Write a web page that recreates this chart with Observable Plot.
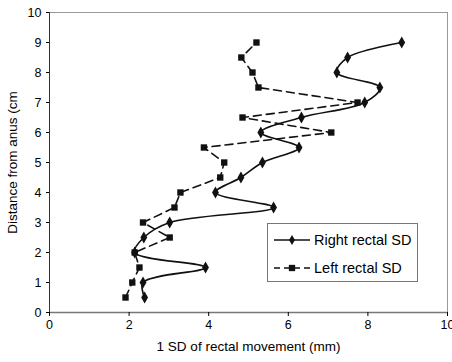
<!DOCTYPE html>
<html>
<head>
<meta charset="utf-8">
<script src="https://cdn.jsdelivr.net/npm/d3@7"></script>
<script src="https://cdn.jsdelivr.net/npm/@observablehq/plot@0.6"></script>
<style>
  body { margin: 0; background: #fff; }
  #wrap { position: relative; width: 452px; height: 362px; overflow: hidden; font-family: "Liberation Sans", Arial, sans-serif; }
  #legend { position: absolute; left: 267px; top: 223px; width: 151px; height: 59px; border: 1px solid #777; background: #fff; box-sizing: border-box; font-size: 14.5px; color: #000; }
  #legend .row { position: absolute; left: 5px; height: 20px; display: flex; align-items: center; }
  #legend svg { margin-right: 3px; }
</style>
</head>
<body>
<div id="wrap"></div>
<script>
const depth = [0.5, 1, 1.5, 2, 2.5, 3, 3.5, 4, 4.5, 5, 5.5, 6, 6.5, 7, 7.5, 8, 8.5, 9];
const rightSD = [2.39, 2.35, 3.92, 2.14, 2.37, 3.02, 5.63, 4.17, 4.81, 5.35, 6.27, 5.31, 6.33, 7.92, 8.30, 7.22, 7.49, 8.85];
const leftSD  = [1.91, 2.08, 2.26, 2.14, 3.02, 2.35, 3.14, 3.29, 4.29, 4.39, 3.88, 7.08, 4.85, 7.74, 5.25, 5.10, 4.82, 5.20];
const seriesNames = ["Right rectal SD", "Left rectal SD"];
const xTicks = [0, 2, 4, 6, 8, 10];
const yTicks = [0, 1, 2, 3, 4, 5, 6, 7, 8, 9, 10];

const right = depth.map((d, i) => ({y: d, x: rightSD[i]}));
const left = depth.map((d, i) => ({y: d, x: leftSD[i]}));

const chart = Plot.plot({
  width: 452,
  height: 362,
  marginLeft: 49,
  marginRight: 5,
  marginTop: 12,
  marginBottom: 50,
  style: {fontFamily: '"Liberation Sans", Arial, sans-serif', fontSize: "12px", color: "#000", background: "#fff"},
  x: {domain: [0, 10]},
  y: {domain: [0, 10]},
  marks: [
    Plot.frame({stroke: "#999", strokeWidth: 1}),
    Plot.ruleX([0], {stroke: "#333"}),
    Plot.ruleY([0], {stroke: "#777", strokeWidth: 1.5}),
    Plot.axisX({ticks: xTicks, tickSize: 4, tickPadding: 4, fontSize: 12.5,
      label: "1 SD of rectal movement (mm)", labelAnchor: "center", labelArrow: "none", labelOffset: 38}),
    Plot.axisY({ticks: yTicks, tickSize: 3, tickPadding: 5, fontSize: 12.5,
      label: "Distance from anus (cm", labelAnchor: "center", labelArrow: "none", labelOffset: 42}),
    Plot.line(left, {x: "x", y: "y", stroke: "#111", strokeWidth: 1.6, strokeDasharray: "8,5"}),
    Plot.line(right, {x: "x", y: "y", stroke: "#111", strokeWidth: 1.6, curve: "catmull-rom"}),
    Plot.dot(left, {x: "x", y: "y", symbol: "square", r: 3.6, fill: "#111", stroke: "none"}),
    Plot.dot(right, {x: "x", y: "y", symbol: "diamond", r: 3.6, fill: "#111", stroke: "none"})
  ]
});

// enlarge axis titles slightly
chart.querySelectorAll('g[aria-label="x-axis label"] text, g[aria-label="y-axis label"] text')
  .forEach(t => t.setAttribute("font-size", "13.5"));
chart.querySelectorAll('g[aria-label="x-axis label"], g[aria-label="y-axis label"]')
  .forEach(g => g.setAttribute("font-size", "13.5"));

const wrap = document.getElementById("wrap");
wrap.appendChild(chart);

const legend = document.createElement("div");
legend.id = "legend";
const dash = ["", "6,4"];
const sym = ["diamond", "square"];
seriesNames.forEach((name, i) => {
  const row = document.createElement("div");
  row.className = "row";
  row.style.top = (i === 0 ? 6 : 34) + "px";
  const s = d3.create("svg").attr("width", 38).attr("height", 12);
  s.append("line").attr("x1", 1).attr("x2", 37).attr("y1", 6).attr("y2", 6)
    .attr("stroke", "#111").attr("stroke-width", 1.6).attr("stroke-dasharray", dash[i] || null);
  s.append("path").attr("transform", "translate(19,6)")
    .attr("d", d3.symbol(sym[i] === "square" ? d3.symbolSquare : d3.symbolDiamond, sym[i] === "square" ? 40 : 30)())
    .attr("fill", "#111");
  row.appendChild(s.node());
  const t = document.createElement("span");
  t.textContent = name;
  row.appendChild(t);
  legend.appendChild(row);
});
wrap.appendChild(legend);
</script>
</body>
</html>
